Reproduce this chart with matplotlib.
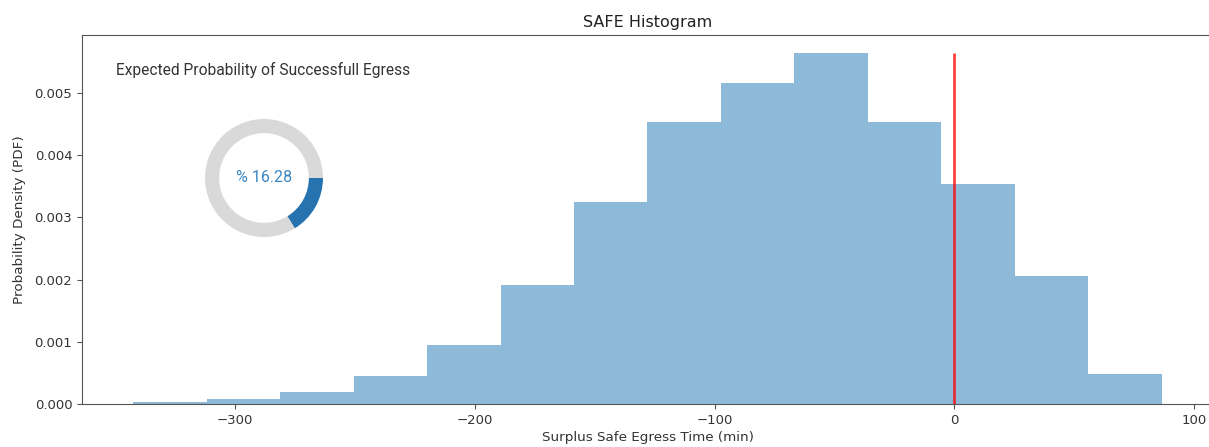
import numpy as np
import matplotlib
matplotlib.use("Agg")
import matplotlib.pyplot as plt

# Data
bin_edges = [-342.3, -311.7, -281.1, -250.4, -219.8, -189.2, -158.6, -128.0,
             -97.3, -66.7, -36.1, -5.5, 25.1, 55.8, 86.4]
densities = [0.00004, 0.000075, 0.00019, 0.00045, 0.00095, 0.00191, 0.00324,
             0.00453, 0.00516, 0.00565, 0.00454, 0.00353, 0.00206, 0.00048]
success_pct = 16.28
threshold = 0.0

title = "SAFE Histogram"
xlabel = "Surplus Safe Egress Time (min)"
ylabel = "Probability Density (PDF)"
annot = "Expected Probability of Successfull Egress"

W, H = 1209, 447
fig = plt.figure(figsize=(W / 100, H / 100), dpi=100)
ax = fig.add_axes([82 / W, 1 - 404 / H, (1213 - 82) / W, (404 - 35) / H])

edges = np.array(bin_edges)
centers = (edges[:-1] + edges[1:]) / 2
ax.hist(centers, bins=edges, weights=densities, color="C0", alpha=0.5)
ax.vlines(threshold, 0, max(densities), color="red", alpha=0.75, linewidth=2)

ax.spines["right"].set_visible(False)
ax.set_title(title, fontsize=11.5, color="#222222")
ax.set_xlabel(xlabel, fontsize=9.7, labelpad=3, color="#333333")
ax.set_ylabel(ylabel, fontsize=9.7, labelpad=6, color="#333333")
ax.tick_params(labelsize=9.5, labelcolor="#333333", color="#555555")
for s in ax.spines.values():
    s.set_color("#555555")
ax.set_xticks([-300, -200, -100, 0, 100])
ax.set_yticks([0, 0.001, 0.002, 0.003, 0.004, 0.005])

fig.text(116 / W, 1 - 70 / H, annot, family="Roboto", fontsize=11.2,
         color="#333333", va="center", ha="left")

# Donut inset
cx, cy, r = 264, 178, 59
ax_in = fig.add_axes([(cx - r) / W, 1 - (cy + r) / H, 2 * r / W, 2 * r / H])
ax_in.pie([success_pct, 100 - success_pct], colors=["#2673b0", "#d9d9d9"],
          startangle=0, counterclock=False, radius=1.0,
          wedgeprops=dict(width=0.24, edgecolor="none"))
ax_in.set_xlim(-1.0, 1.0)
ax_in.set_ylim(-1.0, 1.0)
ax_in.set_aspect("equal")
ax_in.axis("off")
ax_in.text(0, 0, f"% {success_pct}", family="Roboto", fontsize=11.5,
           color="#3a86c4", ha="center", va="center")

fig.savefig("out.png", dpi=100)
